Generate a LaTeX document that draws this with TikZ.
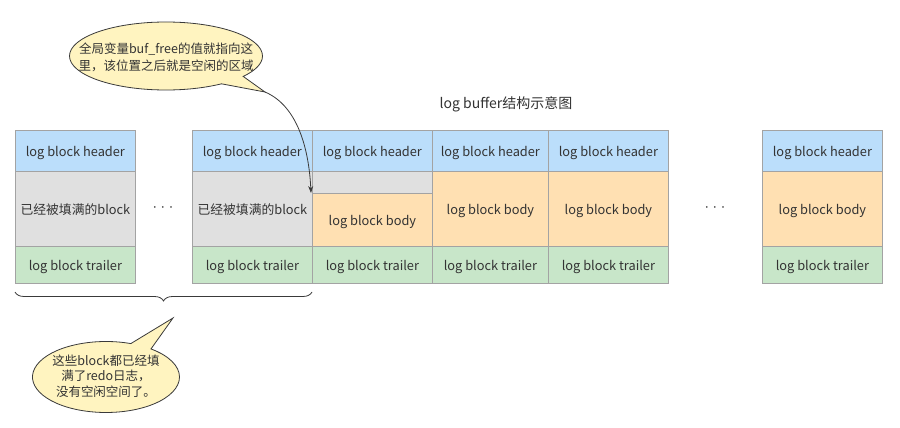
\documentclass[tikz,border=0pt]{standalone}
\usepackage{fontspec}
\setmainfont{Noto Sans CJK SC}
\usetikzlibrary{shapes.callouts,decorations.pathreplacing,arrows.meta}
\definecolor{hdrc}{HTML}{BBDEFB}
\definecolor{grayc}{HTML}{E0E0E0}
\definecolor{bodyc}{HTML}{FFE0B2}
\definecolor{trlc}{HTML}{C8E6C9}
\definecolor{edgec}{HTML}{A3A3A3}
\definecolor{txtc}{HTML}{333333}
\definecolor{notec}{HTML}{FFF4C0}
\definecolor{notee}{HTML}{3A3A3A}
\begin{document}
\begin{tikzpicture}[x=1pt,y=-1pt,
  font=\fontsize{12.8pt}{16pt}\selectfont,
  cell/.style={draw=edgec, line width=0.8pt, inner sep=0pt, anchor=north west, text=txtc, minimum width=120pt, text height=13pt, text depth=2.5pt},
  hdr/.style={cell, fill=hdrc, minimum height=41pt},
  fullb/.style={cell, fill=grayc, minimum height=75pt},
  bodyb/.style={cell, fill=bodyc, minimum height=75pt},
  trl/.style={cell, fill=trlc, minimum height=37pt},
  note/.style={ellipse callout, draw=notee, fill=notec, line width=0.8pt, inner sep=0pt, callout pointer arc=18},
  notetext/.style={align=center, text=txtc},
  dots/.style={text=txtc, font=\fontsize{8pt}{8pt}\selectfont},
  ptr/.style={draw=notee, line width=0.8pt, -{Stealth[length=7pt,width=5pt]}}]
\useasboundingbox[fill=white] (0,0) rectangle (900,428);

% title
\node[text=txtc, font=\fontsize{14pt}{16pt}\selectfont] (title) at (506,104) {log buffer结构示意图};

% block 1
\node[hdr] (h1) at (15,130) {log block header};
\node[fullb] (m1) at (15,171) {已经被填满的block};
\node[trl] (t1) at (15,246) {log block trailer};

\node[dots] (d1) at (163,209) {•\kern0.2pt•\kern0.2pt•};

% block 2
\node[hdr] (h2) at (192,130) {log block header};
\node[fullb] (m2) at (192,171) {已经被填满的block};
\node[trl] (t2) at (192,246) {log block trailer};

% block 3
\node[hdr] (h3) at (312,130) {log block header};
\node[cell, fill=grayc, minimum height=22pt] (g3) at (312,171) {};
\node[cell, fill=bodyc, minimum height=53pt] (o3) at (312,193) {log block body};
\node[trl] (t3) at (312,246) {log block trailer};

% block 4
\node[hdr, minimum width=116pt] (h4) at (432,130) {log block header};
\node[bodyb, minimum width=116pt] (m4) at (432,171) {log block body};
\node[trl, minimum width=116pt] (t4) at (432,246) {log block trailer};

% block 5
\node[hdr] (h5) at (548,130) {log block header};
\node[bodyb] (m5) at (548,171) {log block body};
\node[trl] (t5) at (548,246) {log block trailer};

\node[dots] (d2) at (715,209) {•\kern0.2pt•\kern0.2pt•};

% block 6
\node[hdr] (h6) at (762,130) {log block header};
\node[bodyb] (m6) at (762,171) {log block body};
\node[trl] (t6) at (762,246) {log block trailer};

% brace
\coordinate (bl) at (15,292);
\coordinate (br) at (312,292);
\draw[notee, line width=0.8pt, decorate, decoration={brace, mirror, amplitude=9pt}] (bl) -- (br);

% callout 1
\coordinate (p1) at (265,92);
\node[note, minimum width=193pt, minimum height=68pt, callout absolute pointer={(p1)}] (c1) at (166,56) {};
\node[notetext, font=\fontsize{12.5pt}{17pt}\selectfont] (c1t) at (166,57) {全局变量buf\_free的值就指向这\\里，该位置之后就是空闲的区域};
\draw[ptr] (p1) .. controls (298,106) and (309,150) .. ([xshift=-1pt]o3.north west);

% callout 2
\coordinate (p2) at (173,318);
\node[note, minimum width=147pt, minimum height=71pt, callout absolute pointer={(p2)}] (c2) at (106,377) {};
\node[notetext, font=\fontsize{12.5pt}{15.5pt}\selectfont] (c2t) at (106,376) {这些block都已经填\\满了redo日志，\\没有空闲空间了。};
\end{tikzpicture}
\end{document}
